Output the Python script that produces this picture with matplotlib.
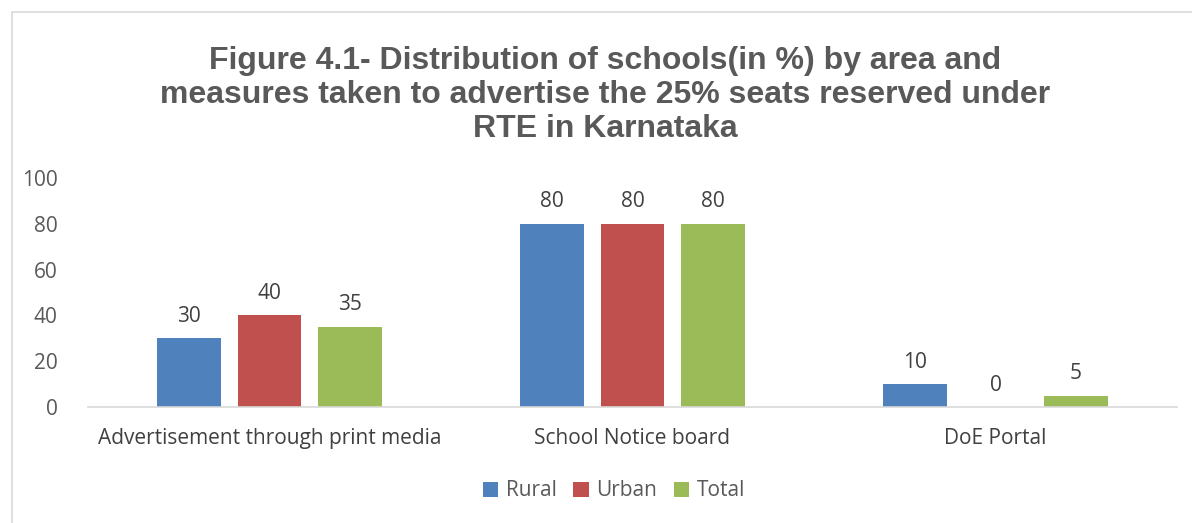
import numpy as np
import matplotlib
matplotlib.use('Agg')
import matplotlib.pyplot as plt
from matplotlib.patches import Rectangle

# measures used to advertise the reserved seats, % of schools
categories = ['Advertisement through print media', 'School Notice board', 'DoE Portal']
rural = [30, 80, 10]
urban = [40, 80, 0]
total = [35, 80, 5]
series_names = ['Rural', 'Urban', 'Total']
series_colors = ['#4F81BD', '#C0504D', '#9BBB59']

plt.rcParams['font.family'] = ['Open Sans', 'DejaVu Sans']
grey = '#595959'

fig = plt.figure(figsize=(11.92, 5.23), dpi=100)
# chart frame
fig.patches.append(Rectangle((12 / 1192, -0.1), 1.2, 1 - 12 / 523 + 0.1, transform=fig.transFigure,
                             fill=False, edgecolor='#D9D9D9', linewidth=1.2))

ax = fig.add_axes([88 / 1192, 1 - 407 / 523, (1177 - 88) / 1192, (407 - 178) / 523])

x = np.arange(len(categories))
width = 0.175
step = 0.222
for i, (vals, name, col) in enumerate(zip([rural, urban, total], series_names, series_colors)):
    pos = x + (i - 1) * step
    ax.bar(pos, vals, width, color=col, label=name)
    for p, v in zip(pos, vals):
        ax.text(p, v + 5, str(v), ha='center', va='bottom', fontsize=15, color='#404040')

ax.set_xlim(-0.5, 2.5)
ax.set_ylim(0, 100)
ax.set_yticks(range(0, 101, 20))
ax.set_xticks(x)
ax.set_xticklabels(categories, fontsize=15, color='#404040')
ax.tick_params(axis='y', labelsize=15, labelcolor=grey, length=0, pad=22)
ax.tick_params(axis='x', length=0, pad=15)
for s in ['top', 'right', 'left']:
    ax.spines[s].set_visible(False)
ax.spines['bottom'].set_color('#D9D9D9')
ax.spines['bottom'].set_linewidth(1.2)

fig.text(0.5075, 1 - 95 / 523,
         'Figure 4.1- Distribution of schools(in %) by area and\n'
         'measures taken to advertise the 25% seats reserved under\n'
         'RTE in Karnataka',
         ha='center', va='center', fontsize=23, fontweight='bold', color=grey,
         family='Liberation Sans', linespacing=1.17)

leg = fig.legend(loc='center', bbox_to_anchor=(0.515, 1 - 491 / 523), ncol=3, frameon=False,
                 fontsize=15, handlelength=0.75, handleheight=0.75, handletextpad=0.35, columnspacing=0.8)
for t in leg.get_texts():
    t.set_color(grey)

fig.savefig('out.png', dpi=100)
